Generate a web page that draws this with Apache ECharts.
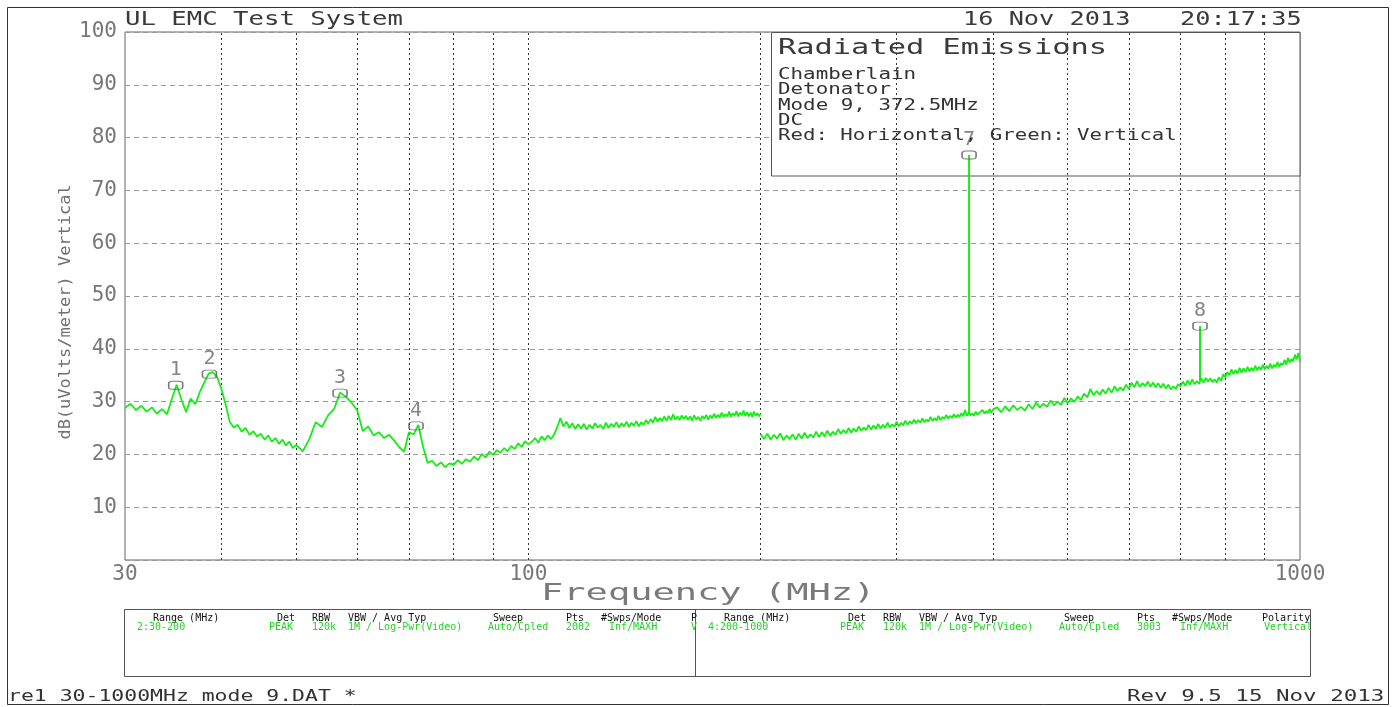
<!DOCTYPE html>
<html><head><meta charset="utf-8">
<script src="https://cdn.jsdelivr.net/npm/echarts@6/dist/echarts.min.js"></script>
<style>html,body{margin:0;padding:0;background:#fff}#c{width:1396px;height:707px}</style>
</head><body><div id="c"></div>
<script>
// ---- Data ----
// Range 2 sweep (30-200 MHz), stored as sub-bands with their own frequency grid
const levels30to50 = [28.8,29.6,28.4,29.2,28.1,28.9,27.7,28.6,27.6,30.5,
  33.2,30.4,28.0,30.6,29.5,31.8,33.6,35.3,35.6,34.6,
  32.4,29.5,26.2,25.1,25.6,24.3,25.0,23.7,24.4,23.4,
  23.9,22.8,23.6,22.4,23.1,22.0,22.8,21.7,22.4,21.2,21.8]; // 30..50 MHz step 0.5
const levels51to100 = [20.6,22.9,26.1,25.2,27.4,28.6,31.7,30.9,29.8,28.3,
  24.4,25.3,23.6,24.2,23.1,23.7,22.6,21.4,20.5,24.2,
  23.8,25.6,21.5,18.4,18.8,17.8,18.5,17.6,18.3,18.0,
  18.9,18.2,19.1,18.6,19.6,18.9,20.1,19.4,20.5,19.9,
  20.8,20.3,21.2,20.6,21.6,21.0,22.1,21.4,22.5,21.9]; // 51..100 MHz step 1
const levels101to200 = [22.4,23.1,22.2,23.4,22.7,23.6,22.9,23.8,25.2,26.9,
  25.3,26.2,25.0,25.9,24.8,25.7,24.9,25.8,24.7,25.6,
  24.9,25.9,25.1,25.6,24.8,26.0,25.0,25.8,25.2,26.1,
  25.1,25.9,25.3,26.2,25.2,26.0,25.4,26.3,25.3,26.1,
  25.6,26.5,25.8,26.7,26.0,27.1,26.2,26.9,26.3,27.2,
  26.4,27.3,26.5,27.6,26.6,27.2,26.5,27.4,26.7,27.3,
  26.5,27.2,26.4,27.4,26.6,27.1,26.4,27.3,26.7,27.5,
  26.6,27.4,26.8,27.7,26.9,27.5,27.0,27.9,27.1,27.6,
  27.2,28.1,27.1,27.8,27.3,28.2,27.2,27.9,27.4,28.3,
  27.3,28.0,27.2,27.9,27.1,28.1,27.3,27.8,27.2,27.7]; // 101..200 MHz step 1
// Range 4 sweep (200-1000 MHz)
const levels200to400 = [23.8,22.9,23.9,22.8,23.7,23.0,24.0,22.7,23.6,22.9,
  23.8,22.8,23.9,23.0,24.1,23.1,23.8,23.2,24.3,23.3,
  24.2,23.4,24.5,23.5,24.3,23.7,24.8,23.9,24.6,24.0,
  25.0,24.1,24.9,24.3,25.3,24.5,25.1,24.6,25.6,24.7,
  25.5,24.8,25.8,24.9,25.6,25.0,26.0,25.1,25.7,25.2,
  26.2,25.3,26.0,25.5,26.4,25.6,26.3,25.8,26.6,25.9,
  26.5,26.0,26.8,26.1,26.6,26.2,27.1,26.3,26.9,26.4,
  27.3,26.5,27.1,26.7,27.5,26.8,27.3,26.9,27.6,27.0,
  27.5,27.1,27.8,27.2,28.4,27.3,27.9,27.4,27.8,27.3,
  28.1,27.5,27.9,27.6,28.4,27.7,28.2,27.8,28.6,27.9,28.5]; // 200..400 MHz step 2
const levels405to1000 = [28.9,28.0,29.1,28.2,29.3,28.4,29.0,28.3,29.5,28.6,
  29.8,28.9,29.6,29.0,30.2,29.3,30.0,29.4,30.7,29.7,
  30.6,29.9,31.0,30.3,31.5,30.8,32.4,31.2,32.0,31.3,
  32.3,31.5,32.6,31.7,32.9,32.0,32.7,32.1,33.2,32.4,
  33.6,32.7,33.9,32.8,33.5,32.9,33.8,32.8,33.6,32.7,
  33.5,32.6,33.4,32.5,33.2,32.3,32.9,32.4,33.3,32.9,
  33.8,33.0,34.0,33.2,34.2,33.3,33.9,33.4,34.4,33.6,
  34.5,33.8,34.4,33.7,34.2,33.6,34.6,33.9,35.2,34.6,
  35.6,35.0,36.1,35.2,36.0,35.3,36.4,35.5,36.3,35.6,
  36.6,35.7,36.4,35.8,36.8,35.9,36.6,36.0,37.0,36.1,
  36.8,36.2,37.2,36.3,37.0,36.5,37.5,36.6,37.3,36.9,
  37.9,37.0,38.3,37.4,38.1,37.6,38.9,38.0,39.2,37.6]; // 405..1000 MHz step 5

// narrowband spikes: frequency, trace floor, peak
const spikeFreq = [372.5, 742];
const spikeBase = [27.6, 34.0];
const spikePeak = [76.7, 44.3];

// markers
const markerIds = ['1','2','3','4','7','8'];
const markerFreq = [34.9, 38.6, 57.0, 71.5, 372.5, 742];
const markerLevel = [33.1, 35.2, 31.6, 25.4, 76.7, 44.3];

// axis ticks / grid
const xTickLabels = [30, 100, 1000];
const gridFreqs = [40,50,60,70,80,90,100,200,300,400,500,600,700,800,900];

// ---- build series data ----
function seg(levels, start, step) { return levels.map((v, i) => [+(start + i * step).toFixed(2), v]); }
const band1 = [].concat(seg(levels30to50, 30, 0.5), seg(levels51to100, 51, 1), seg(levels101to200, 101, 1));
const band2 = [].concat(seg(levels200to400, 200, 2), seg(levels405to1000, 405, 5));

const GREEN = '#14ee14';
const MONO = '"DejaVu Sans Mono"';
function txt(text, x, y, size, sx, color, extra) {
  return Object.assign({type:'text', x:x, y:y, scaleX:sx, z:30, silent:true,
    style:{text:text, font: size + 'px ' + MONO, fill:color, align:'left', verticalAlign:'middle'}}, extra || {});
}

const graphics = [
  {type:'rect', z:0, silent:true, shape:{x:7.5,y:7.5,width:1381,height:697}, style:{fill:'none', stroke:'#333', lineWidth:1}},
  {type:'rect', z:5, silent:true, shape:{x:771.5,y:32.5,width:528.5,height:143.5}, style:{fill:'#fff', stroke:'#555', lineWidth:1}},
  {type:'rect', z:5, silent:true, shape:{x:124.5,y:609.5,width:1186,height:67}, style:{fill:'#fff', stroke:'#555', lineWidth:1}},
  {type:'line', z:6, silent:true, shape:{x1:695.5,y1:609.5,x2:695.5,y2:676.5}, style:{stroke:'#555', lineWidth:1}},
  txt('UL EMC Test System', 125, 20, 19, 1.35, '#3a3a3a'),
  txt('16 Nov 2013', 963, 20, 19, 1.33, '#3a3a3a'),
  txt('20:17:35', 1180, 20, 19, 1.33, '#3a3a3a'),
  txt('Radiated Emissions', 778, 48, 22, 1.38, '#3a3a3a'),
  txt('Chamberlain', 778, 75, 15, 1.39, '#333'),
  txt('Detonator', 778, 90, 15, 1.39, '#333'),
  txt('Mode 9, 372.5MHz', 778, 106, 15, 1.39, '#333'),
  txt('DC', 778, 121, 15, 1.39, '#333'),
  txt('Red: Horizontal, Green: Vertical', 778, 136, 15, 1.38, '#333'),
  txt('Frequency (MHz)', 541, 594, 23, 1.61, '#7a7a7a'),
  {type:'text', x:66, y:312, rotation:Math.PI/2, scaleX:1.13, z:30, silent:true,
    style:{text:'dB(uVolts/meter) Vertical', font:'15px ' + MONO, fill:'#707070', align:'center', verticalAlign:'middle'}},
  txt('re1 30-1000MHz mode 9.DAT *', 8, 697, 15, 1.43, '#333'),
  txt('Rev 9.5 15 Nov 2013', 1127, 697, 15, 1.5, '#333')
];
// bottom table
const tblHeadR = [['Range (MHz)',724],['Det',848],['RBW',883],['VBW / Avg Typ',919],['Sweep',1064],['Pts',1137],['#Swps/Mode',1172],['Polarity',1262]];
const tblValR = [['4:200-1000',708],['PEAK',840],['120k',883],['1M / Log-Pwr(Video)',919],['Auto/Cpled',1059],['3003',1137],['Inf/MAXH',1180],['Vertical',1264]];
const tblHeadL = [['Range (MHz)',153],['Det',277],['RBW',312],['VBW / Avg Typ',348],['Sweep',493],['Pts',566],['#Swps/Mode',601],['P',691]];
const tblValL = [['2:30-200',137],['PEAK',269],['120k',312],['1M / Log-Pwr(Video)',348],['Auto/Cpled',488],['2002',566],['Inf/MAXH',609],['V',691]];
tblHeadL.concat(tblHeadR).forEach(h => graphics.push(txt(h[0], h[1], 618, 10, 1, '#111')));
tblValL.concat(tblValR).forEach(h => graphics.push(txt(h[0], h[1], 627, 10, 1, '#1cd81c')));

const chart = echarts.init(document.getElementById('c'), null, {renderer:'canvas'});
const series = [
  {type:'line', z:1, silent:true, data:[], animation:false,
    markLine:{silent:true, animation:false, symbol:['none','none'], label:{show:false},
      lineStyle:{color:'#333', type:[2,3], width:1}, emphasis:{disabled:true},
      data: gridFreqs.map(f => ({xAxis:f}))}},
  {type:'line', z:10, data:band1, showSymbol:false, animation:false, silent:true,
    lineStyle:{color:GREEN, width:1.8}},
  {type:'line', z:10, data:band2, showSymbol:false, animation:false, silent:true,
    lineStyle:{color:GREEN, width:1.8}}
];
spikeFreq.forEach((f, i) => series.push({type:'line', z:10, showSymbol:false, animation:false, silent:true,
  data:[[f, spikeBase[i]], [f, spikePeak[i]]], lineStyle:{color:GREEN, width:2}}));
series.push({type:'scatter', z:12, animation:false, silent:true,
  data: markerFreq.map((f, i) => [f, markerLevel[i]]),
  symbol:'roundRect', symbolSize:[14,8],
  itemStyle:{color:'rgba(255,255,255,0)', borderColor:'#555', borderWidth:1.2},
  label:{show:true, position:'top', distance:1, formatter: p => markerIds[p.dataIndex],
    color:'#666', fontSize:20, fontFamily:'DejaVu Sans Mono'}});

chart.setOption({
  backgroundColor:'#fff',
  animation:false,
  grid:{left:125, top:32, width:1175, height:528, show:true, borderColor:'#666', borderWidth:1, containLabel:false},
  xAxis:{type:'log', logBase:10, min:30, max:1000,
    axisLine:{show:false}, axisTick:{show:false}, splitLine:{show:false}, minorTick:{show:false},
    axisLabel:{customValues:xTickLabels, color:'#777', fontSize:21, fontFamily:'DejaVu Sans Mono', margin:4,
      formatter: v => String(Math.round(v))}},
  yAxis:{type:'value', min:0, max:100, interval:10,
    axisLine:{show:false}, axisTick:{show:false},
    splitLine:{lineStyle:{color:'#999', type:[5,4], width:1}},
    axisLabel:{color:'#777', fontSize:21, fontFamily:'DejaVu Sans Mono', margin:8,
      formatter: v => v === 0 ? '' : String(v)}},
  graphic: graphics,
  series: series
});
</script></body></html>
